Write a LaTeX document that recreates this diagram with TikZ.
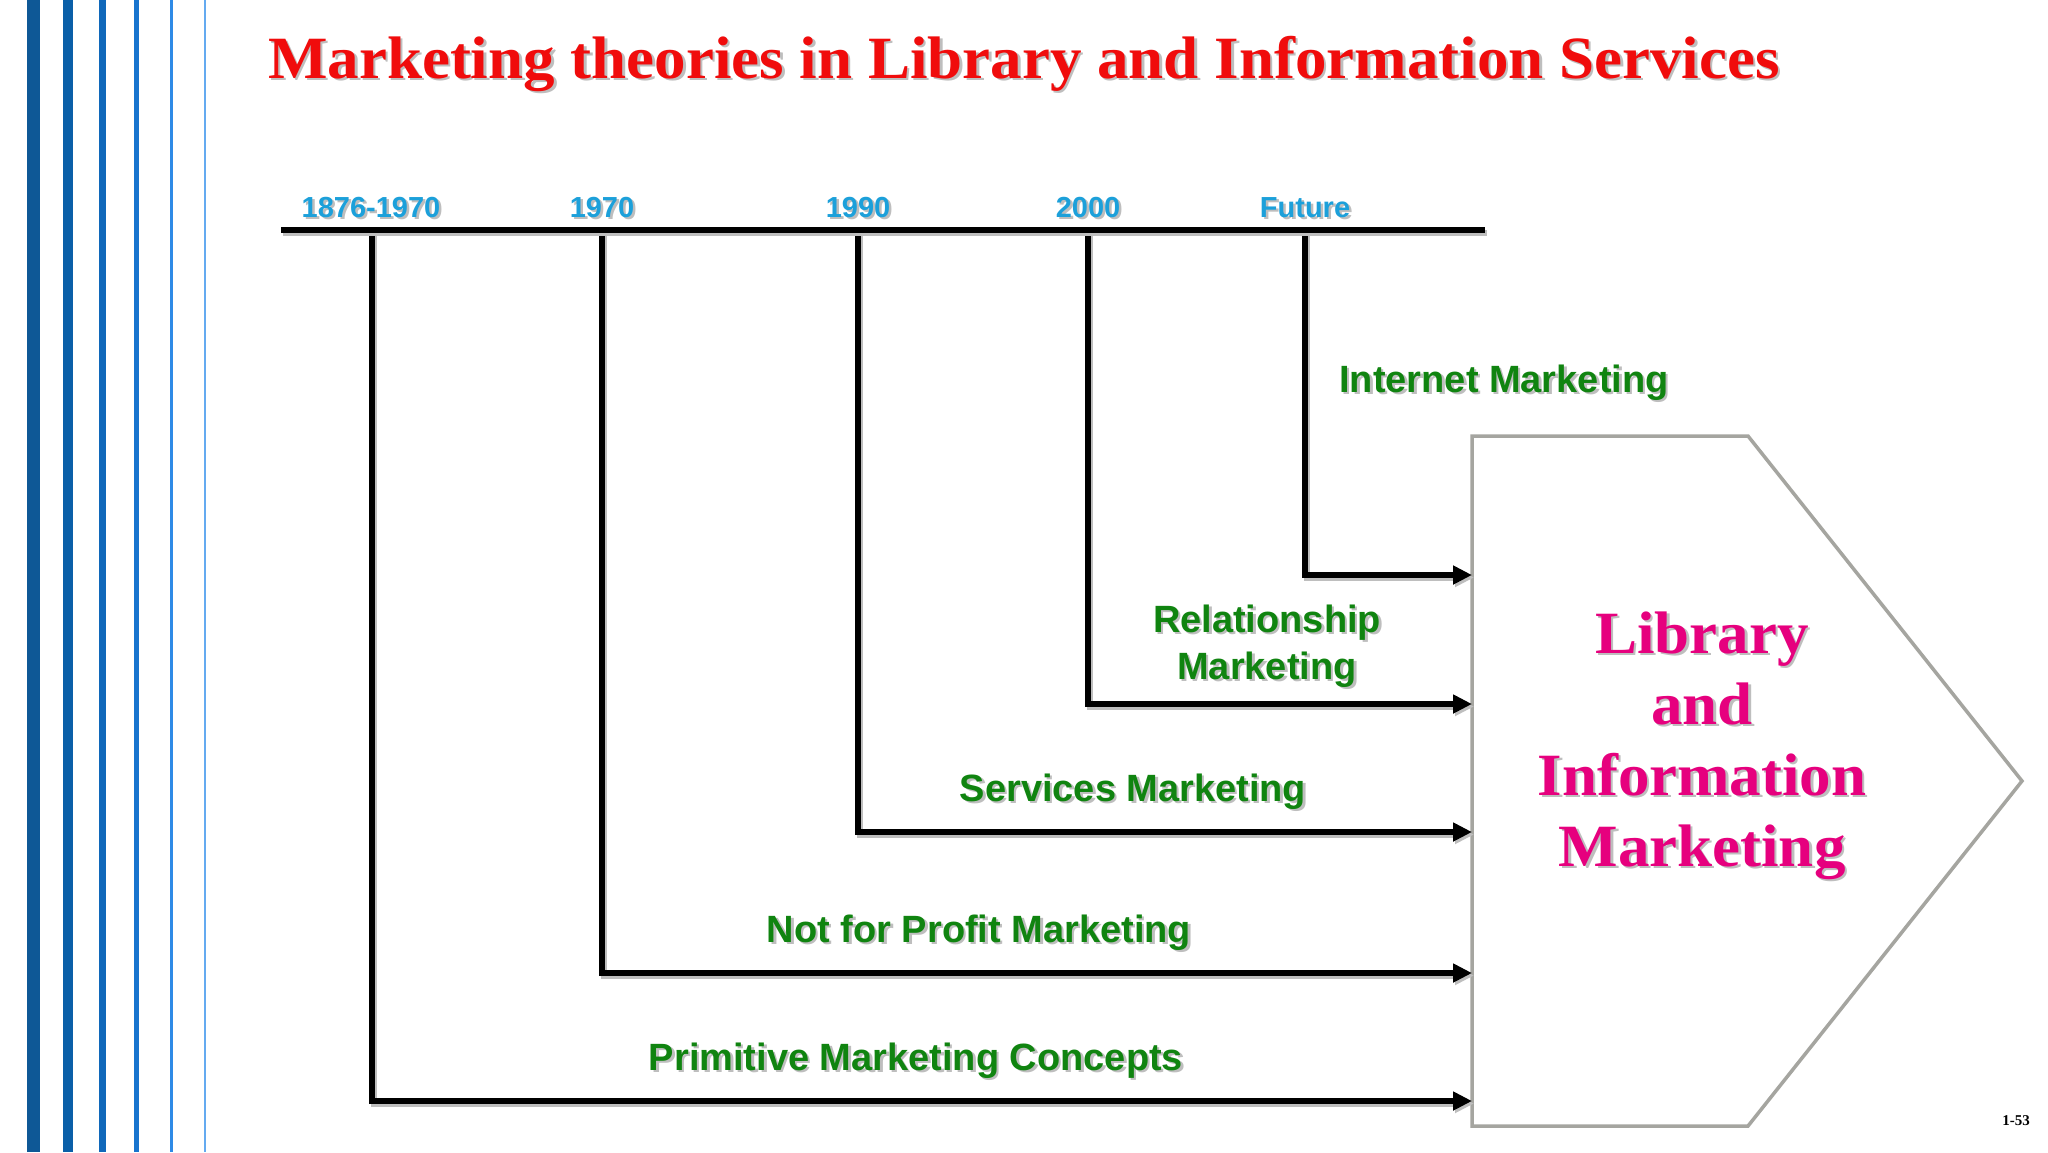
\documentclass[tikz,border=0pt]{standalone}
\usepackage{fontspec}
\setmainfont{Liberation Serif}
\newfontfamily\cambria[FakeStretch=1.05]{Liberation Serif}
\newfontfamily\arial{Liberation Sans}
\usetikzlibrary{arrows.meta}
\definecolor{titlered}{RGB}{240,12,12}
\definecolor{yearblue}{RGB}{28,160,218}
\definecolor{labgreen}{RGB}{16,132,16}
\definecolor{limpink}{RGB}{230,0,126}
\definecolor{boxgray}{RGB}{165,165,160}
\definecolor{shadowgray}{RGB}{190,190,190}
\definecolor{stripeA}{RGB}{14,88,150}
\definecolor{stripeB}{RGB}{10,95,168}
\definecolor{stripeC}{RGB}{16,104,186}
\definecolor{stripeD}{RGB}{24,116,206}
\definecolor{stripeE}{RGB}{46,138,230}
\definecolor{stripeF}{RGB}{100,170,240}
\newcommand\shtxt[1]{\makebox[0pt][l]{\hspace{2.5pt}\raisebox{-2.5pt}{\color{shadowgray}#1}}#1}
\begin{document}
\begin{tikzpicture}[x=1pt,y=-1pt,
  titlestyle/.style={font=\cambria\bfseries\fontsize{60}{72}\selectfont, text=titlered, inner sep=0pt, anchor=base},
  yearlab/.style={font=\arial\bfseries\fontsize{29}{35}\selectfont, text=yearblue, inner sep=0pt, anchor=base},
  greenlab/.style={font=\arial\bfseries\fontsize{38}{47}\selectfont, text=labgreen, inner sep=0pt, align=center, anchor=base},
  limstyle/.style={font=\cambria\bfseries\fontsize{60}{71}\selectfont, text=limpink, inner sep=0pt, align=center},
  boxline/.style={draw=boxgray, line width=3.5pt, fill=white, line join=miter},
  tline/.style={line width=6pt, preaction={draw=shadowgray, line width=6pt, transform canvas={shift={(2pt,-2.5pt)}}}},
  conn/.style={line width=6pt, -{Triangle[length=19pt,width=18pt]}, preaction={draw=shadowgray, line width=6pt, transform canvas={shift={(2pt,-2.5pt)}}}}
]
\useasboundingbox (0,0) rectangle (2048,1152);
\fill[white] (0,0) rectangle (2048,1152);
% left stripes
\fill[stripeA] (27,0) rectangle (40,1152);
\fill[stripeB] (63,0) rectangle (73,1152);
\fill[stripeC] (99,0) rectangle (106,1152);
\fill[stripeD] (134,0) rectangle (139,1152);
\fill[stripeE] (170,0) rectangle (172.5,1152);
\fill[stripeF] (204,0) rectangle (205.8,1152);
% title
\node[titlestyle] (title) at (1024,78) {\shtxt{Marketing theories in Library and Information Services}};
% pentagon box
\coordinate (p1) at (1472,436);
\coordinate (p2) at (1748,436);
\coordinate (p3) at (2022,781);
\coordinate (p4) at (1748,1126);
\coordinate (p5) at (1472,1126);
\draw[boxline] (p1) -- (p2) -- (p3) -- (p4) -- (p5) -- cycle;
% timeline
\coordinate (tl0) at (281,230);
\coordinate (tl1) at (1485,230);
\coordinate (t1) at (372,230);
\coordinate (t2) at (602,230);
\coordinate (t3) at (858,230);
\coordinate (t4) at (1088,230);
\coordinate (t5) at (1305,230);
\coordinate (e1) at (1472,1101);
\coordinate (e2) at (1472,973);
\coordinate (e3) at (1472,832);
\coordinate (e4) at (1472,704);
\coordinate (e5) at (1472,575);
\draw[conn] (t1) |- (e1);
\draw[conn] (t2) |- (e2);
\draw[conn] (t3) |- (e3);
\draw[conn] (t4) |- (e4);
\draw[conn] (t5) |- (e5);
\draw[tline] (tl0) -- (tl1);
% year labels
\node[yearlab] (y1) at (371,217) {\shtxt{1876-1970}};
\node[yearlab] (y2) at (602,217) {\shtxt{1970}};
\node[yearlab] (y3) at (858,217) {\shtxt{1990}};
\node[yearlab] (y4) at (1088,217) {\shtxt{2000}};
\node[yearlab] (y5) at (1305,217) {\shtxt{Future}};
% green labels
\node[greenlab] (l5) at (1504,392) {\shtxt{Internet Marketing}};
\node[greenlab, anchor=center] (l4) at (1267,647) {\shtxt{Relationship}\\\shtxt{Marketing}};
\node[greenlab] (l3) at (1133,801) {\shtxt{Services Marketing}};
\node[greenlab] (l2) at (979,942) {\shtxt{Not for Profit Marketing}};
\node[greenlab] (l1) at (916,1070) {\shtxt{Primitive Marketing Concepts}};
% box text
\node[limstyle] (lim) at (1702,747) {\shtxt{Library}\\\shtxt{and}\\\shtxt{Information}\\\shtxt{Marketing}};
% page number
\node[font=\bfseries\fontsize{15}{18}\selectfont, inner sep=0pt, anchor=base] (pg) at (2016,1125) {1-53};
\end{tikzpicture}
\end{document}
